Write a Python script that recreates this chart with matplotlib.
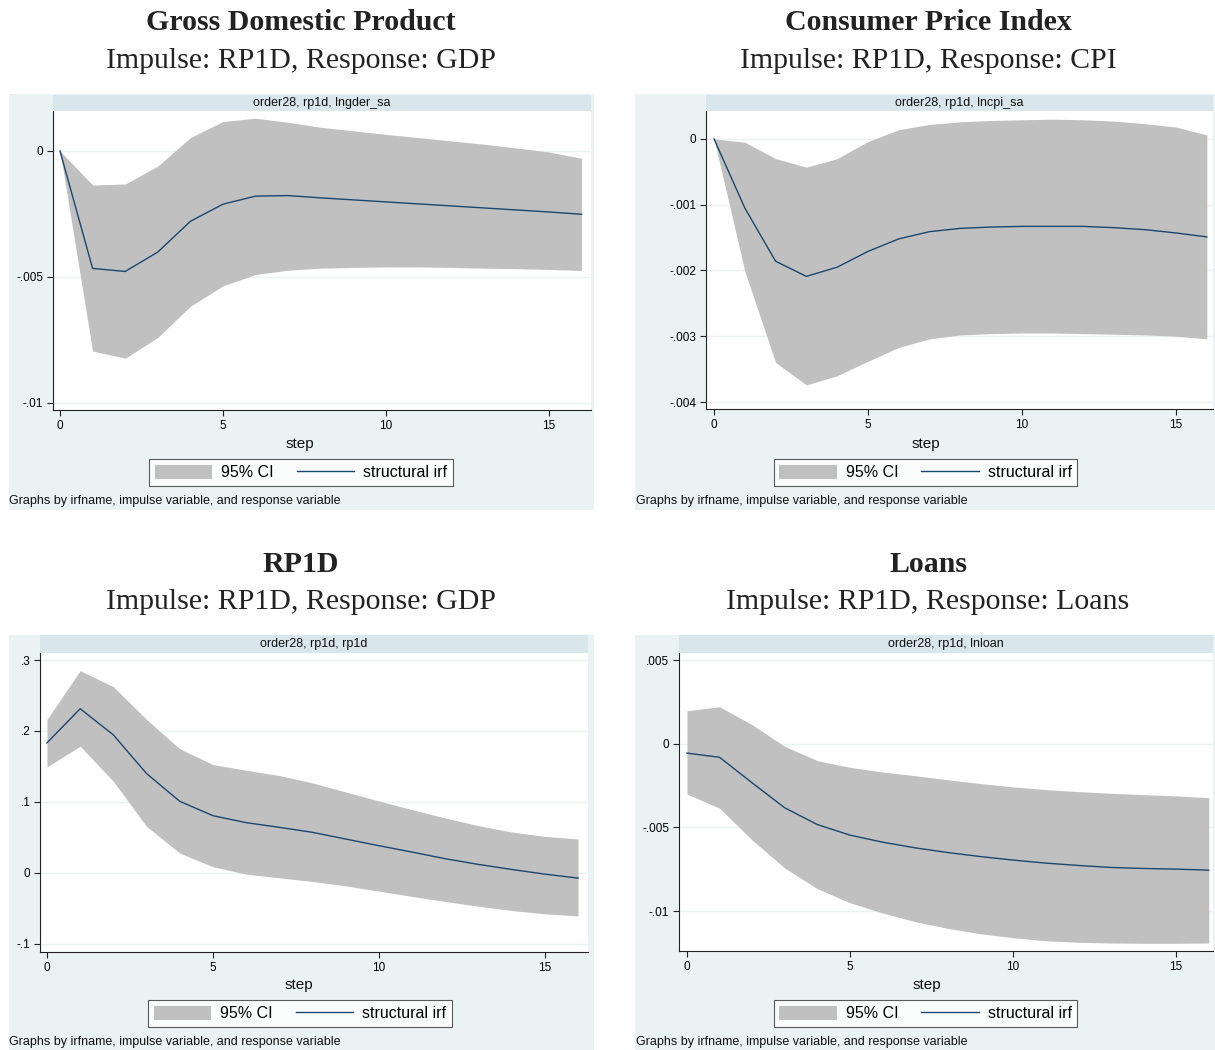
import matplotlib
matplotlib.use("Agg")
import matplotlib.pyplot as plt
from matplotlib.patches import Rectangle, Patch
from matplotlib.lines import Line2D

# ---------------- data ----------------
steps = list(range(17))

gdp_irf = [0, -0.00466, -0.00478, -0.00401, -0.00279, -0.00211, -0.00179, -0.00177,
           -0.00186, -0.00194, -0.00202, -0.00210, -0.00218, -0.00226, -0.00234,
           -0.00242, -0.00251]
gdp_hi = [0, -0.00135, -0.00131, -0.00060, 0.00053, 0.00117, 0.00130, 0.00114,
          0.00094, 0.00080, 0.00066, 0.00053, 0.00040, 0.00027, 0.00012,
          -0.00004, -0.00029]
gdp_lo = [0, -0.00794, -0.00822, -0.00740, -0.00616, -0.00535, -0.00490, -0.00473,
          -0.00465, -0.00462, -0.00460, -0.00460, -0.00462, -0.00465, -0.00467,
          -0.00470, -0.00474]

cpi_irf = [0, -0.00105, -0.00186, -0.00209, -0.00195, -0.00171, -0.00152, -0.00141,
           -0.00136, -0.00134, -0.00133, -0.00133, -0.00133, -0.00135, -0.00138,
           -0.00143, -0.00149]
cpi_hi = [0, -0.00005, -0.00030, -0.00043, -0.00030, -0.00004, 0.00014, 0.00022,
          0.00026, 0.00028, 0.00029, 0.00030, 0.00029, 0.00027, 0.00023,
          0.00018, 0.00006]
cpi_lo = [0, -0.00201, -0.00340, -0.00374, -0.00360, -0.00338, -0.00317, -0.00304,
          -0.00298, -0.00296, -0.00295, -0.00295, -0.00296, -0.00297, -0.00298,
          -0.00300, -0.00304]

rp_irf = [0.1832, 0.2313, 0.1945, 0.1399, 0.1008, 0.0805, 0.0707, 0.0641, 0.0570,
          0.0476, 0.0382, 0.0292, 0.0198, 0.0118, 0.0047, -0.0019, -0.0075]
rp_hi = [0.2162, 0.2850, 0.2624, 0.2162, 0.1748, 0.1526, 0.1446, 0.1371, 0.1267,
         0.1140, 0.1013, 0.0890, 0.0772, 0.0664, 0.0575, 0.0513, 0.0476]
rp_lo = [0.1493, 0.1785, 0.1290, 0.0655, 0.0278, 0.0085, -0.0019, -0.0071, -0.0122,
         -0.0184, -0.0259, -0.0334, -0.0405, -0.0471, -0.0532, -0.0579, -0.0608]

loan_irf = [-0.00056, -0.00081, -0.00234, -0.00383, -0.00483, -0.00546, -0.00588,
            -0.00622, -0.00650, -0.00674, -0.00695, -0.00713, -0.00727, -0.00739,
            -0.00745, -0.00749, -0.00755]
loan_hi = [0.00197, 0.00221, 0.00113, -0.00016, -0.00101, -0.00141, -0.00169,
           -0.00191, -0.00215, -0.00238, -0.00258, -0.00274, -0.00286, -0.00296,
           -0.00304, -0.00312, -0.00322]
loan_lo = [-0.00300, -0.00385, -0.00576, -0.00743, -0.00866, -0.00950, -0.01011,
           -0.01063, -0.01103, -0.01135, -0.01159, -0.01177, -0.01186, -0.01190,
           -0.01192, -0.01192, -0.01190]

titles = ["Gross Domestic Product", "Consumer Price Index", "RP1D", "Loans"]
subtitles = ["Impulse: RP1D, Response: GDP", "Impulse: RP1D, Response: CPI",
             "Impulse: RP1D, Response: GDP", "Impulse: RP1D, Response: Loans"]
strip_labels = ["order28, rp1d, lngder_sa", "order28, rp1d, lncpi_sa",
                "order28, rp1d, rp1d", "order28, rp1d, lnloan"]
xticks = [0, 5, 10, 15]
yticks_list = [[-0.01, -0.005, 0], [-0.004, -0.003, -0.002, -0.001, 0],
               [-0.1, 0, 0.1, 0.2, 0.3], [-0.01, -0.005, 0, 0.005]]
ytick_labels = [["-.01", "-.005", "0"], ["-.004", "-.003", "-.002", "-.001", "0"],
                ["-.1", "0", ".1", ".2", ".3"], ["-.01", "-.005", "0", ".005"]]
legend_labels = ["95% CI", "structural irf"]
xlabel = "step"
note = "Graphs by irfname, impulse variable, and response variable"

series = [(gdp_irf, gdp_lo, gdp_hi), (cpi_irf, cpi_lo, cpi_hi),
          (rp_irf, rp_lo, rp_hi), (loan_irf, loan_lo, loan_hi)]

# ---------------- layout (pixels) ----------------
W, H = 1215, 1050
BG = "#EAF2F3"
STRIP = "#D9E6EB"
CI = "#C0C0C0"
LINE = "#1A476F"
SANS = ["Liberation Sans", "DejaVu Sans"]
SERIF = ["Liberation Serif", "DejaVu Serif"]

layout = [
    dict(bg=(9, 94, 594, 510), plot=(53, 111, 591, 410), strip=(95, 111),
         xlim=(-0.215, 16.29), ylim=(-0.010278, 0.001587),
         title=(301, 22, 61), step=(300, 444), leg=(301, 472.5), note=(9, 501)),
    dict(bg=(635, 94, 1215, 510), plot=(706, 111, 1213, 409), strip=(95, 111),
         xlim=(-0.26, 16.2), ylim=(-0.004106, 0.000424),
         title=(928, 22, 61), step=(926, 444), leg=(925.5, 472.5), note=(636, 501)),
    dict(bg=(9, 635, 594, 1050), plot=(40, 653, 588, 952), strip=(635, 653),
         xlim=(-0.21, 16.3), ylim=(-0.1117, 0.3099),
         title=(301, 564, 602), step=(299, 985), leg=(300, 1013.5), note=(9, 1042)),
    dict(bg=(635, 635, 1215, 1050), plot=(679, 653, 1213, 951), strip=(635, 653),
         xlim=(-0.245, 16.13), ylim=(-0.01238, 0.00542),
         title=(928, 564, 602), step=(927, 985), leg=(925.5, 1013.5), note=(636, 1042)),
]

fig = plt.figure(figsize=(W / 100, H / 100), dpi=100)
fig.patch.set_facecolor("white")


def fx(x):
    return x / W


def fy(y):
    return 1 - y / H


for i, L in enumerate(layout):
    # graph-region background as an axes placed beneath everything
    x0, y0, x1, y1 = L["bg"]
    bax = fig.add_axes([fx(x0), fy(y1), (x1 - x0) / W, (y1 - y0) / H], zorder=-5)
    bax.set_facecolor(BG)
    bax.set_xticks([])
    bax.set_yticks([])
    for s in bax.spines.values():
        s.set_visible(False)

    px0, py0, px1, py1 = L["plot"]
    ax = fig.add_axes([fx(px0), fy(py1), (px1 - px0) / W, (py1 - py0) / H], zorder=1)
    ax.set_facecolor("white")
    irf, lo, hi = series[i]
    ax.fill_between(steps, lo, hi, color=CI, linewidth=0, zorder=2)
    ax.plot(steps, irf, color=LINE, lw=1.0, zorder=3)
    ax.set_xlim(*L["xlim"])
    ax.set_ylim(*L["ylim"])
    ax.set_xticks(xticks)
    ax.set_xticklabels([str(t) for t in xticks], fontfamily=SANS, fontsize=8.5)
    ax.set_yticks(yticks_list[i])
    ax.set_yticklabels(ytick_labels[i], fontfamily=SANS, fontsize=8.5)
    ax.grid(axis="y", color=BG, lw=1.0, zorder=1)
    ax.set_axisbelow(True)
    for s in ["top", "right"]:
        ax.spines[s].set_visible(False)
    for s in ["left", "bottom"]:
        ax.spines[s].set_linewidth(0.8)
        ax.spines[s].set_color("#222222")
    ax.tick_params(length=4, width=0.8, color="#222222", pad=3)

    # strip
    sy0, sy1 = L["strip"]
    sax = fig.add_axes([fx(px0), fy(sy1), (px1 - px0) / W, (sy1 - sy0) / H], zorder=1)
    sax.set_facecolor(STRIP)
    sax.set_xticks([])
    sax.set_yticks([])
    for s in sax.spines.values():
        s.set_visible(False)
    sax.text(0.5, 0.5, strip_labels[i], ha="center", va="center",
             fontfamily=SANS, fontsize=9, color="#111111", transform=sax.transAxes)

    # titles
    tx, ty, sty = L["title"]
    fig.text(fx(tx), fy(ty), titles[i], ha="center", va="center",
             fontfamily=SERIF, fontweight="bold", fontsize=21.5, color="#222222")
    fig.text(fx(tx), fy(sty), subtitles[i], ha="center", va="center",
             fontfamily=SERIF, fontsize=21.5, color="#222222")

    # x title
    fig.text(fx(L["step"][0]), fy(L["step"][1]), xlabel, ha="center", va="center",
             fontfamily=SANS, fontsize=11, color="#111111")

    # legend
    handles = [Patch(facecolor=CI, edgecolor="none"),
               Line2D([0], [0], color=LINE, lw=1.0)]
    leg = fig.legend(handles, legend_labels, loc="center",
                     bbox_to_anchor=(fx(L["leg"][0]), fy(L["leg"][1])),
                     ncol=2, frameon=True, fancybox=False,
                     prop=dict(family=SANS, size=11.5),
                     handlelength=3.6, handleheight=1.05, handletextpad=0.55,
                     columnspacing=1.45, borderpad=0.35, borderaxespad=0)
    leg.get_frame().set_edgecolor("#333333")
    leg.get_frame().set_linewidth(0.8)
    leg.get_frame().set_facecolor("white")

    # note
    fig.text(fx(L["note"][0]), fy(L["note"][1]), note, ha="left", va="center",
             fontfamily=SANS, fontsize=9, color="#111111")

fig.savefig("out.png", dpi=100, facecolor="white")
